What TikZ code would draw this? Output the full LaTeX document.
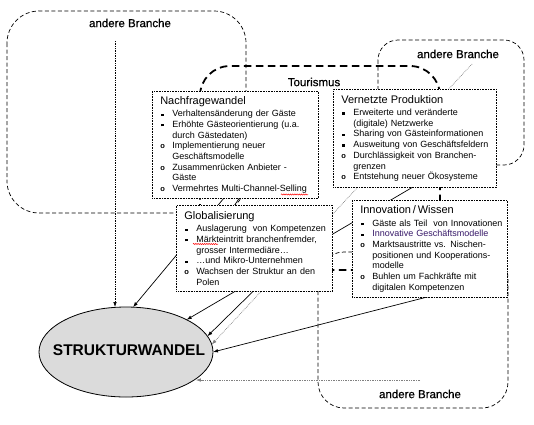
\documentclass[tikz,border=0pt]{standalone}
\usepackage{fontspec}
\setmainfont{Liberation Sans}
\newfontfamily\labelfont[FakeBold=0.6]{Liberation Sans}
\usetikzlibrary{arrows.meta,shapes.geometric,backgrounds,decorations.pathmorphing}

\newcommand{\sqi}{\makebox[12pt][l]{\hspace{1pt}\rule[0.2ex]{2.2pt}{2.2pt}}}
\newcommand{\cii}{\makebox[12pt][l]{{\fontsize{7.5}{7.5}\selectfont\bfseries o}}}
\newcommand{\indt}{\hspace*{12pt}}
\newcommand{\boxtitle}[1]{{\fontsize{11}{12}\selectfont #1}\\[1.8pt]}
\definecolor{purpletext}{RGB}{55,25,105}

\begin{document}
\begin{tikzpicture}[x=1pt,y=-1pt,
  infobox/.style={draw, densely dotted, line width=0.6pt, fill=white, anchor=north west,
    inner xsep=8pt, inner ysep=4pt, align=left, font=\fontsize{9}{10.7}\selectfont},
  branche/.style={draw, dashed, dash pattern=on 4pt off 2.5pt, line width=0.7pt},
  tourism/.style={draw, dash pattern=on 7.5pt off 4.5pt, line width=1.8pt},
  conn/.style={draw, line width=0.7pt, -{Latex[length=5pt,width=3.6pt]}},
  plainconn/.style={draw, line width=0.7pt},
  grayconn/.style={draw, gray, densely dotted, line width=0.7pt, -{Latex[length=5pt,width=3.6pt]}},
  dotarrow/.style={draw, densely dotted, line width=0.7pt, -{Latex[length=5pt,width=3.6pt]}},
  lbl/.style={font=\labelfont\fontsize{11.5}{13}\selectfont, inner sep=1pt},
  squig/.style={draw, red, line width=0.5pt, decorate, decoration={snake, amplitude=0.6pt, segment length=2.2pt}}
]
\useasboundingbox (0,0) rectangle (534,424);

% labels
\node[lbl] (lab1) at (130,23) {andere Branche};
\node[lbl] (lab2) at (458,54) {andere Branche};
\node[lbl] (lab3) at (420,394) {andere Branche};
\node[lbl] (tour) at (314,82) {Tourismus};

% boxes
\node[infobox, text width=150pt, minimum height=107pt] (nf) at (152,91) {%
\boxtitle{Nachfragewandel}
\sqi\mbox{Verhaltensänderung der Gäste}\\
\sqi\mbox{Erhöhte Gästeorientierung (u.a.}\\
\indt\mbox{durch Gästedaten)}\\
\cii\mbox{Implementierung neuer}\\
\indt\mbox{Geschäftsmodelle}\\
\cii\mbox{Zusammenrücken Anbieter -}\\
\indt\mbox{Gäste}\\
\cii\mbox{Vermehrtes Multi-Channel-Selling}};

\node[infobox, text width=147pt, minimum height=98pt] (vp) at (333,89) {%
\boxtitle{Vernetzte Produktion}
\sqi\mbox{Erweiterte und veränderte}\\
\indt\mbox{(digitale) Netzwerke}\\
\sqi\mbox{Sharing von Gästeinformationen}\\
\sqi\mbox{Ausweitung von Geschäftsfeldern}\\
\cii\mbox{Durchlässigkeit von Branchen-}\\
\indt\mbox{grenzen}\\
\cii\mbox{Entstehung neuer Ökosysteme}};

\node[infobox, text width=140pt, minimum height=86pt] (gl) at (176,205) {%
\boxtitle{Globalisierung}
\sqi\mbox{Auslagerung\ \ von Kompetenzen}\\
\sqi\mbox{Märkteintritt branchenfremder,}\\
\indt\mbox{grosser Intermediäre…}\\
\sqi\mbox{…und Mikro-Unternehmen}\\
\cii\mbox{Wachsen der Struktur an den}\\
\indt\mbox{Polen}};

\node[infobox, text width=139pt, minimum height=97pt] (iw) at (352,200) {%
\boxtitle{Innovation\,/\,Wissen}
\sqi\mbox{Gäste als Teil\ \ von Innovationen}\\
\sqi\mbox{\color{purpletext}Innovative Geschäftsmodelle}\\
\cii\mbox{Marktsaustritte vs. Nischen-}\\
\indt\mbox{positionen und Kooperations-}\\
\indt\mbox{modelle}\\
\cii\mbox{Buhlen um Fachkräfte mit}\\
\indt\mbox{digitalen Kompetenzen}};

% central ellipse
\node[ellipse, draw, line width=0.8pt, fill=black!14, minimum width=174pt, minimum height=90pt,
      inner sep=0pt, outer sep=0pt] (sw) at (126,352) {};
\node[font=\fontsize{15.5}{18}\selectfont\bfseries, inner sep=0pt] (swt) at (129,350) {STRUKTURWANDEL};

% hidden origins of connectors
\coordinate (a1) at (115,41);
\coordinate (nfo1) at (234,186);
\coordinate (nfo2) at (250,182);
\coordinate (glo2) at (226,218);
\coordinate (vpo) at (430,177);
\coordinate (glo) at (285,260);
\coordinate (lab2o) at (472,64);
\coordinate (iwo) at (470,286);
\coordinate (lab3o) at (420,380);

\begin{scope}[on background layer]
  % sector frames
  \draw[branche, rounded corners=32pt] (7,11) rectangle (246,213);
  \draw[branche, rounded corners=20pt] (378,40) rectangle (524,165);
  \draw[branche, rounded corners=26pt] (318,252) rectangle (508,408);
  \draw[tourism, rounded corners=30pt] (200,66) rectangle (440,270);
  % connectors
  \draw[dotarrow] (a1) -- (a1 |- sw.north);
  \draw[conn] (nfo1) -- (sw.81.5);
  \draw[plainconn] (nfo2) -- (glo2);
  \draw[conn] (vpo) -- (sw.28);
  \draw[conn] (glo) -- (sw.11.4);
  \draw[grayconn] (lab2o) -- (sw.5.6);
  \draw[conn] (iwo) -- (sw.0.6);
  \draw[grayconn] (lab3o) -- (lab3o -| sw.-21);
\end{scope}

% spell-check marks
\draw[squig] (281,194.5) -- (308,194.5);
\draw[squig] (193,244) -- (218,244);
\end{tikzpicture}
\end{document}
